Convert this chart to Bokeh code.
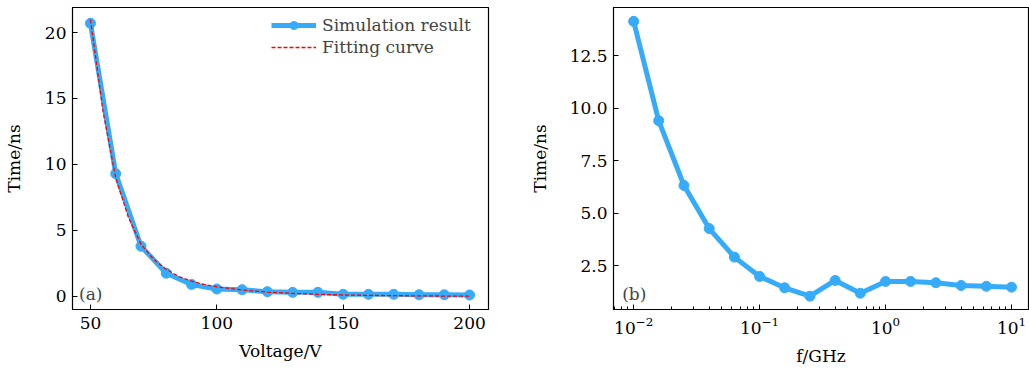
from bokeh.plotting import figure
from bokeh.layouts import row
from bokeh.models import (Range1d, FixedTicker, Label, Legend, LegendItem,
                          NumeralTickFormatter, LogTicker)
from bokeh.embed import file_html
from bokeh.resources import INLINE

# ---- data (a) ----
voltage = [50, 60, 70, 80, 90, 100, 110, 120, 130, 140, 150, 160, 170, 180, 190, 200]
time_sim = [20.7, 9.3, 3.8, 1.75, 0.9, 0.55, 0.5, 0.35, 0.3, 0.3, 0.15, 0.15, 0.15, 0.12, 0.12, 0.1]
fit_voltage = [50, 55, 60, 65, 70, 75, 80, 85, 90, 95, 100, 110, 120, 130, 140, 150, 160, 170, 180, 190, 200]
fit_time = [21.0, 14.0, 9.0, 6.0, 3.95, 2.8, 2.05, 1.5, 1.15, 0.9, 0.72, 0.48, 0.32, 0.22, 0.15, 0.1, 0.07, 0.05, 0.03, 0.02, 0.01]

# ---- data (b) ----
freq = [0.01, 0.0158, 0.0251, 0.0398, 0.0631, 0.1, 0.158, 0.251, 0.398, 0.631,
        1.0, 1.58, 2.51, 3.98, 6.31, 10.0]
time_f = [14.13, 9.4, 6.31, 4.26, 2.9, 1.98, 1.44, 1.04, 1.79, 1.18,
          1.74, 1.74, 1.68, 1.55, 1.51, 1.47]

a_yticks = [0, 5, 10, 15, 20]
a_xticks = [50, 100, 150, 200]
b_yticks = [2.5, 5.0, 7.5, 10.0, 12.5]

BLUE = "#36abfa"
FONT = "DejaVu Serif"
FS = "17px"


def style(p):
    p.outline_line_color = "black"
    p.outline_line_alpha = 1
    p.outline_line_width = 1.2
    p.grid.visible = False
    p.background_fill_color = "white"
    p.border_fill_color = "white"
    for ax in (p.xaxis[0], p.yaxis[0]):
        ax.major_tick_in = 5
        ax.major_tick_out = 0
        ax.minor_tick_in = 0
        ax.minor_tick_out = 0
        ax.axis_line_color = "black"
        ax.major_tick_line_color = "black"
        ax.major_label_text_font = FONT
        ax.major_label_text_font_size = FS
        ax.major_label_text_color = "black"
        ax.axis_label_text_font = FONT
        ax.axis_label_text_font_size = FS
        ax.axis_label_text_font_style = "normal"
        ax.axis_label_text_color = "black"
    p.xaxis.major_label_standoff = 7
    p.yaxis.major_label_standoff = 6
    p.xaxis.axis_label_standoff = 9


# ---------- panel (a) ----------
pa = figure(width=520, height=369, output_backend="svg", toolbar_location=None,
            x_range=Range1d(42.9, 207.5), y_range=Range1d(-1.0, 21.9),
            min_border_left=72, min_border_right=32, min_border_top=7, min_border_bottom=60)
style(pa)
pa.yaxis.axis_label_standoff = 18
pa.xaxis.ticker = FixedTicker(ticks=a_xticks)
pa.yaxis.ticker = FixedTicker(ticks=a_yticks)
pa.xaxis.axis_label = "Voltage/V"
pa.yaxis.axis_label = "Time/ns"

r_line = pa.line(voltage, time_sim, line_color=BLUE, line_width=5)
r_pts = pa.scatter(voltage, time_sim, size=10, fill_color=BLUE, line_color=BLUE)
r_fit = pa.line(fit_voltage, fit_time, line_color="red", line_width=1.3, line_dash="4 2")

leg = Legend(items=[LegendItem(label="Simulation result", renderers=[r_line, r_pts]),
                    LegendItem(label="Fitting curve", renderers=[r_fit])],
             location=(193, 246), border_line_alpha=0, background_fill_alpha=0,
             label_text_font=FONT, label_text_font_size=FS, glyph_width=45,
             glyph_height=20, spacing=2, padding=6, margin=0, label_standoff=6,
             label_height=20)
pa.add_layout(leg)

pa.add_layout(Label(x=45.5, y=0.2, text="(a)", text_font=FONT, text_font_size=FS,
                    text_baseline="middle", text_align="left"))

# ---------- panel (b) ----------
pb = figure(width=509, height=369, output_backend="svg", toolbar_location=None,
            x_axis_type="log",
            x_range=Range1d(10 ** -2.16, 10 ** 1.135), y_range=Range1d(0.405, 14.79),
            min_border_left=93, min_border_right=1, min_border_top=7, min_border_bottom=60)
style(pb)
pb.yaxis.axis_label_standoff = 17
pb.xaxis.ticker = LogTicker(desired_num_ticks=4, num_minor_ticks=10)
pb.xaxis.minor_tick_in = 3
pb.xaxis.minor_tick_line_color = "black"
pb.yaxis.ticker = FixedTicker(ticks=b_yticks)
pb.yaxis.formatter = NumeralTickFormatter(format="0.0")
pb.xaxis.axis_label = "f/GHz"
pb.yaxis.axis_label = "Time/ns"

pb.line(freq, time_f, line_color=BLUE, line_width=5)
pb.scatter(freq, time_f, size=10, fill_color=BLUE, line_color=BLUE)

pb.add_layout(Label(x=0.0081, y=1.12, text="(b)", text_font=FONT, text_font_size=FS,
                    text_baseline="middle", text_align="left"))

layout = row(pa, pb, spacing=0)
open("out.html", "w").write(file_html(layout, INLINE))
